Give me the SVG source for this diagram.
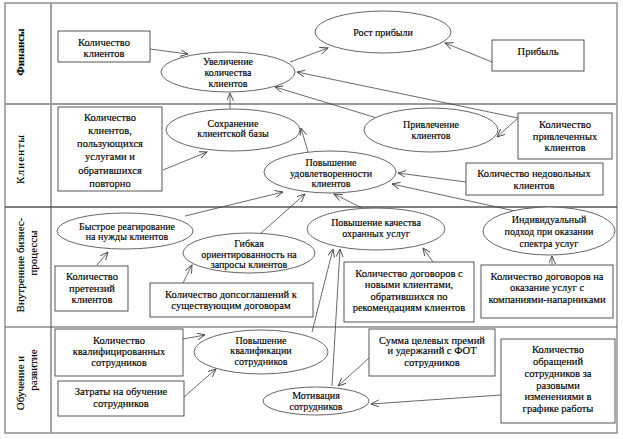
<svg xmlns="http://www.w3.org/2000/svg" width="623" height="439" viewBox="0 0 623 439" font-family="'Liberation Serif', 'DejaVu Serif', 'Times New Roman', serif">
<style>
  .frame{fill:none;stroke:#808080;stroke-width:1.3}
  .sep{stroke:#8c8c8c;stroke-width:1.6}
  .box{fill:#fff;stroke:#444;stroke-width:0.9}
  .ell{fill:#fff;stroke:#555;stroke-width:0.9}
  text{font-family:'Liberation Serif','DejaVu Serif','Times New Roman',serif;fill:#000;stroke:#000;stroke-width:0.15;text-anchor:middle}
  .t{font-size:10.5px}
  .te{font-size:10px}
  .lab{font-size:11px}
  .c line{stroke:#444;stroke-width:0.8;marker-end:url(#arr)}
</style>
<defs>
  <marker id="arr" markerUnits="userSpaceOnUse" markerWidth="10" markerHeight="8" refX="8" refY="3.5" orient="auto">
    <path d="M0,0 L8,3.5 L0,7" fill="none" stroke="#444" stroke-width="0.9"/>
  </marker>
</defs>
<rect x="0" y="0" width="623" height="439" fill="#fff"/>
<g id="frame">
  <rect class="frame" x="5" y="3" width="612" height="430"/>
  <line class="sep" x1="51" y1="3" x2="51" y2="433"/>
  <line class="sep" x1="5" y1="104" x2="617" y2="104" style="stroke-width:2.2;stroke:#9a9a9a"/>
  <line class="sep" x1="5" y1="207" x2="617" y2="207" style="stroke:#555;stroke-width:1.4"/>
  <line class="sep" x1="5" y1="327" x2="617" y2="327" style="stroke:#555;stroke-width:1.1"/>
</g>
<g id="lanes">
  <text class="lab" font-weight="bold" transform="translate(24,52) rotate(-90)">Финансы</text>
  <text class="lab" letter-spacing="1.2" transform="translate(24,159) rotate(-90)">Клиенты</text>
  <text class="lab" transform="translate(24,265) rotate(-90)">Внутренние бизнес-</text>
  <text class="lab" transform="translate(37,253) rotate(-90)">процессы</text>
  <text class="lab" transform="translate(24,383) rotate(-90)">Обучение и</text>
  <text class="lab" transform="translate(37,370) rotate(-90)">развитие</text>
</g>
<g class="c" id="connectors">
  <line x1="150" y1="49" x2="188" y2="54"/>
  <line x1="290" y1="62" x2="328" y2="48"/>
  <line x1="492" y1="62" x2="445" y2="43"/>
  <line x1="518" y1="118" x2="297" y2="72"/>
  <line x1="518" y1="118" x2="497" y2="137"/>
  <line x1="377" y1="118" x2="275" y2="87"/>
  <line x1="230" y1="109" x2="230" y2="93"/>
  <line x1="163" y1="170" x2="207" y2="152"/>
  <line x1="308" y1="152" x2="301" y2="128"/>
  <line x1="466" y1="182" x2="398" y2="173"/>
  <line x1="515" y1="211" x2="392" y2="184"/>
  <line x1="362" y1="208" x2="334" y2="194"/>
  <line x1="260" y1="234" x2="305" y2="194"/>
  <line x1="185" y1="216" x2="283" y2="192"/>
  <line x1="97" y1="265" x2="108" y2="252"/>
  <line x1="183" y1="283" x2="192" y2="265"/>
  <line x1="433" y1="262" x2="423" y2="248"/>
  <line x1="552" y1="265" x2="552" y2="256"/>
  <line x1="312" y1="332" x2="333" y2="249"/>
  <line x1="332" y1="386" x2="340" y2="249"/>
  <line x1="183" y1="339" x2="205" y2="335"/>
  <line x1="184" y1="397" x2="216" y2="369"/>
  <line x1="369" y1="358" x2="338" y2="386"/>
  <line x1="501" y1="395" x2="371" y2="404"/>
</g>
<g id="n-kol-klientov"><rect class="box" x="58" y="31" width="92" height="31"/>
  <text class="t" x="104" y="45.5">Количество</text><text class="t" x="104" y="56.5">клиентов</text></g>
<g id="n-pribyl"><rect class="box" x="492" y="40" width="92" height="31"/>
  <text class="t" x="538" y="54.5">Прибыль</text></g>
<g id="n-uvelichenie"><ellipse class="ell" cx="228" cy="72" rx="67" ry="20"/>
  <text class="te" x="228" y="64.5">Увеличение</text><text class="te" x="228" y="75.5">количества</text><text class="te" x="228" y="86.5">клиентов</text></g>
<g id="n-rost"><ellipse class="ell" cx="383" cy="32" rx="68" ry="21"/>
  <text class="te" x="383" y="35.5">Рост прибыли</text></g>
<g id="n-povtorno"><rect class="box" x="58" y="107" width="104" height="84"/>
  <text class="t" x="110" y="120.5">Количество</text><text class="t" x="110" y="133.5">клиентов,</text><text class="t" x="110" y="146.5">пользующихся</text><text class="t" x="110" y="160">услугами и</text><text class="t" x="110" y="173.5">обратившихся</text><text class="t" x="110" y="186.5">повторно</text></g>
<g id="n-sohranenie"><ellipse class="ell" cx="233" cy="130" rx="67" ry="21"/>
  <text class="te" x="233" y="126.5">Сохранение</text><text class="te" x="233" y="137">клиентской базы</text></g>
<g id="n-privlechenie"><ellipse class="ell" cx="431" cy="130" rx="67" ry="22"/>
  <text class="te" x="431" y="127.5">Привлечение</text><text class="te" x="431" y="138.5">клиентов</text></g>
<g id="n-kol-privlech"><rect class="box" x="518" y="113" width="94" height="46"/>
  <text class="t" x="565" y="127.5">Количество</text><text class="t" x="565" y="139.5">привлеченных</text><text class="t" x="565" y="150.5">клиентов</text></g>
<g id="n-udovl"><ellipse class="ell" cx="330" cy="172" rx="66" ry="21"/>
  <text class="te" x="331" y="165.5">Повышение</text><text class="te" x="331" y="176.5">удовлетворенности</text><text class="te" x="331" y="186.5">клиентов</text></g>
<g id="n-nedovol"><rect class="box" x="466" y="163" width="137" height="32"/>
  <text class="t" x="534" y="176.5">Количество недовольных</text><text class="t" x="534" y="188.5">клиентов</text></g>
<g id="n-bystroe"><ellipse class="ell" cx="125" cy="231" rx="68" ry="18"/>
  <text class="te" x="127" y="229.5">Быстрое реагирование</text><text class="te" x="127" y="239.5">на нужды клиентов</text></g>
<g id="n-pretenzii"><rect class="box" x="55" y="266" width="73" height="45"/>
  <text class="t" x="92" y="279.5">Количество</text><text class="t" x="92" y="291.5">претензий</text><text class="t" x="92" y="302.5">клиентов</text></g>
<g id="n-gibkaya"><ellipse class="ell" cx="249" cy="253" rx="66" ry="20"/>
  <text class="te" x="249" y="246.5">Гибкая</text><text class="te" x="249" y="257.5">ориентированность на</text><text class="te" x="249" y="267.5">запросы клиентов</text></g>
<g id="n-dopsogl"><rect class="box" x="150" y="283" width="163" height="34"/>
  <text class="t" x="231" y="297.5">Количество допсоглашений к</text><text class="t" x="231" y="308.5">существующим договорам</text></g>
<g id="n-kachestvo"><ellipse class="ell" cx="376" cy="229" rx="69" ry="21"/>
  <text class="te" x="376" y="225.5">Повышение качества</text><text class="te" x="376" y="236.5">охранных услуг</text></g>
<g id="n-novye"><rect class="box" x="344" y="262" width="130" height="60"/>
  <text class="t" x="409" y="276.5">Количество договоров с</text><text class="t" x="409" y="288">новыми клиентами,</text><text class="t" x="409" y="299.5">обратившихся по</text><text class="t" x="409" y="311">рекомендациям клиентов</text></g>
<g id="n-individ"><ellipse class="ell" cx="549" cy="231" rx="66" ry="24"/>
  <text class="te" x="549" y="222.5">Индивидуальный</text><text class="te" x="549" y="234.5">подход при оказании</text><text class="te" x="549" y="246.5">спектра услуг</text></g>
<g id="n-naparniki"><rect class="box" x="481" y="265" width="132" height="53"/>
  <text class="t" x="547" y="279.5">Количество договоров на</text><text class="t" x="547" y="290.5">оказание услуг с</text><text class="t" x="547" y="302.5">компаниями-напарниками</text></g>
<g id="n-kvalif-sotr"><rect class="box" x="55" y="329" width="128" height="47"/>
  <text class="t" x="119" y="343.5">Количество</text><text class="t" x="119" y="354.5">квалифицированных</text><text class="t" x="119" y="365.5">сотрудников</text></g>
<g id="n-zatraty"><rect class="box" x="58" y="381" width="126" height="35"/>
  <text class="t" x="121" y="394.5">Затраты на обучение</text><text class="t" x="121" y="406.5">сотрудников</text></g>
<g id="n-kvalifikacii"><ellipse class="ell" cx="261" cy="352" rx="67" ry="22"/>
  <text class="te" x="261" y="343.5">Повышение</text><text class="te" x="261" y="353.5">квалификации</text><text class="te" x="261" y="364.5">сотрудников</text></g>
<g id="n-motivaciya"><ellipse class="ell" cx="316" cy="401" rx="53" ry="14"/>
  <text class="te" x="316" y="398.5">Мотивация</text><text class="te" x="316" y="409.5">сотрудников</text></g>
<g id="n-summa"><rect class="box" x="369" y="329" width="126" height="47"/>
  <text class="t" x="432" y="343.5">Сумма целевых премий</text><text class="t" x="432" y="354">и удержаний с ФОТ</text><text class="t" x="432" y="365.5">сотрудников</text></g>
<g id="n-obrascheniya"><rect class="box" x="501" y="339" width="114" height="84"/>
  <text class="t" x="558" y="352.5">Количество</text><text class="t" x="558" y="364.5">обращений</text><text class="t" x="558" y="376.5">сотрудников за</text><text class="t" x="558" y="388.5">разовыми</text><text class="t" x="558" y="399.5">изменениями в</text><text class="t" x="558" y="411.5">графике работы</text></g>
</svg>
